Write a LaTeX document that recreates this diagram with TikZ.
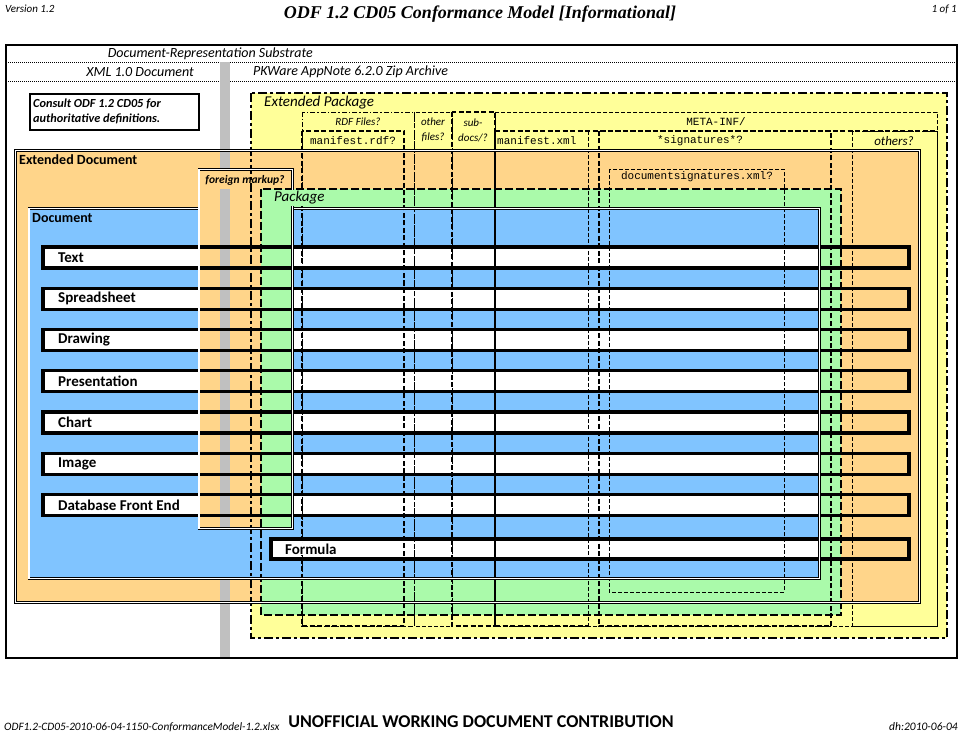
\documentclass[tikz,border=0pt]{standalone}
\usepackage{fontspec}
\setmainfont{Carlito}
\newfontfamily\monofont{Liberation Mono}
\newfontfamily\titleserif{Liberation Serif}
\newcommand\fsz[1]{\fontsize{#1}{#1}\selectfont}
\definecolor{extpkg}{RGB}{255,255,153}
\definecolor{extdoc}{RGB}{255,213,138}
\definecolor{pkggreen}{RGB}{170,250,170}
\definecolor{docblue}{RGB}{128,196,255}
\definecolor{graybar}{RGB}{192,192,192}
\tikzset{
  dbl/.style={draw=black, line width=0.7pt, double=white, double distance=1.3pt},
  rowline/.style={draw=black, line width=3.2pt},
  thickdash/.style={draw=black, line width=1.7pt, dash pattern=on 5pt off 2.5pt},
  thindash/.style={draw=black, line width=0.9pt, dash pattern=on 4pt off 2pt},
  thindashdot/.style={draw=black, line width=0.9pt, dash pattern=on 5pt off 2pt on 1.5pt off 2pt},
  dotline/.style={draw=black, line width=0.8pt, dash pattern=on 1pt off 1pt},
  pkgborder/.style={draw=black, line width=2.5pt, dash pattern=on 8pt off 3pt},
  extpkgborder/.style={draw=black, line width=2.8pt, dash pattern=on 9pt off 3pt on 3pt off 3pt},
  txt/.style={inner sep=0pt, text=black},
  rowlabel/.style={txt, anchor=west, font=\bfseries\fsz{15}},
  hdr/.style={txt, font=\itshape\fsz{14}},
  monolbl/.style={txt, font=\monofont\fsz{11}},
  smallit/.style={txt, font=\itshape\fontsize{11}{15}\selectfont, align=center},
}
\def\rowlist{0/Text/rtext,1/Spreadsheet/rsheet,2/Drawing/rdraw,3/Presentation/rpres,4/Chart/rchart,5/Image/rimage,6/Database Front End/rdb}
\begin{document}
\begin{tikzpicture}[x=1pt,y=-1pt]
\useasboundingbox (0,0) rectangle (964,735);
\fill[white] (0,0) rectangle (964,735);

% outer frame
\draw[line width=2pt] (6,45) rectangle (957,658);
\draw[dotline] (6,62) -- (957,62);
\draw[dotline] (6,81) -- (957,81);

% consult box
\draw[line width=2.4pt, fill=white] (30,94) rectangle (199,130);

% background regions
\fill[extpkg] (251,93) rectangle (947,638);
\fill[extdoc] (15.5,150.5) rectangle (919.5,602.5);
\fill[pkggreen] (261,189) rectangle (841,615);
\fill[docblue] (29,208.5) rectangle (819.5,578.5);
\fill[extdoc] (199,169.5) rectangle (292.5,528.5);
\fill[pkggreen] (261,189) rectangle (291,528.5);

% gray bar
\fill[graybar] (220,62) rectangle (230,169);
\fill[graybar] (220,189) rectangle (230,528);
\fill[graybar] (220,580) rectangle (230,657);

% white row fills
\foreach \i/\lab/\nm in \rowlist {
  \pgfmathsetmacro\yt{247+41.25*\i}
  \pgfmathsetmacro\yb{\yt+21}
  \fill[white] (43,\yt) rectangle (198,\yb);
  \fill[white] (291,\yt) rectangle (819,\yb);
}
\fill[white] (271,539) rectangle (819,559);

% column boxes of the extended package
\draw[thindashdot] (302,112) rectangle (414,626);
\draw[thindash] (414,112) rectangle (452,626);
\draw[thickdash] (452,112) rectangle (495,626);
\draw[thindash] (495,112) rectangle (937,626);
\draw[thickdash] (302,131) rectangle (404,626);
\draw[thickdash] (495,131) -- (495,626) -- (588,626);
\draw[thindash] (588,131) -- (588,626);
\draw[thickdash] (495,131) -- (937,131);
\draw[thickdash] (599,131) rectangle (831,626);
\draw[thindash] (852,131) rectangle (937,626);
\draw[thindash] (609,169) rectangle (784,592);

% row outlines
\foreach \i/\lab/\nm in \rowlist {
  \pgfmathsetmacro\yt{247+41.25*\i}
  \pgfmathsetmacro\yb{\yt+21}
  \draw[rowline] (43,\yt) rectangle (909,\yb);
}
\draw[rowline] (271,539) rectangle (909,559);

% package borders
\draw[extpkgborder] (251,93) rectangle (947,638);
\draw[pkgborder] (261,189) rectangle (841,615);

% double borders
\draw[dbl] (15.5,150.5) rectangle (919.5,602.5);
\draw[dbl] (199,208.5) -- (29,208.5) -- (29,578.5) -- (819.5,578.5) -- (819.5,208.5) -- (291.5,208.5);
\draw[dbl] (199,169.5) rectangle (292.5,528.5);

% header / footer texts
\node[txt, anchor=west, font=\itshape\fsz{11}] (ver) at (5,9) {Version 1.2};
\node[txt, font=\titleserif\bfseries\itshape\fsz{18}] (title) at (480,14) {ODF 1.2 CD05 Conformance Model [Informational]};
\node[txt, anchor=east, font=\itshape\fsz{11}] (pg) at (957,9) {1 of 1};
\node[hdr, anchor=east] (drs) at (313,54) {Document-Representation Substrate};
\node[hdr, anchor=east] (xml) at (194,72) {XML 1.0 Document};
\node[hdr, anchor=west] (zip) at (253,72) {PKWare AppNote 6.2.0 Zip Archive};
\node[txt, anchor=west, font=\itshape\fsz{11.3}] (fname) at (4,727) {ODF1.2-CD05-2010-06-04-1150-ConformanceModel-1.2.xlsx};
\node[txt, font=\bfseries\fsz{18}] (unoff) at (481,722) {UNOFFICIAL WORKING DOCUMENT CONTRIBUTION};
\node[txt, anchor=east, font=\itshape\fsz{11.5}] (dh) at (958,727) {dh:2010-06-04};

% consult text
\node[txt, anchor=west, align=left, font=\bfseries\itshape\fontsize{12.3}{15}\selectfont] (consult) at (33,111) {Consult ODF 1.2 CD05 for\\authoritative definitions.};

% box labels
\node[txt, anchor=west, font=\itshape\fsz{15}] (extpkglbl) at (264,103) {Extended Package};
\node[smallit] (rdf) at (358,122) {RDF Files?};
\node[monolbl] (mrdf) at (353,141) {manifest.rdf?};
\node[smallit] (other) at (433,130) {other\\files?};
\node[smallit] (subdocs) at (473,130) {sub-\\docs/?};
\node[monolbl] (metainf) at (716,122) {META-INF/};
\node[monolbl, anchor=west] (mxml) at (497,141) {manifest.xml};
\node[monolbl] (sigs) at (700,141) {*signatures*?};
\node[txt, font=\itshape\fsz{13}] (others) at (894,141) {others?};
\node[monolbl] (docsig) at (697,177) {documentsignatures.xml?};
\node[txt, anchor=west, font=\bfseries\fsz{14}] (extdoclbl) at (19,160) {Extended Document};
\node[txt, font=\bfseries\itshape\fsz{11.5}] (foreign) at (245,180) {foreign markup?};
\node[txt, anchor=west, font=\itshape\fsz{15}, fill=pkggreen, inner xsep=1pt, inner ysep=2pt] (pkglbl) at (273,198) {Package};
\node[txt, anchor=west, font=\bfseries\fsz{14}] (doclbl) at (32,218) {Document};

% row labels
\foreach \i/\lab/\nm in \rowlist {
  \pgfmathsetmacro\yc{257.5+41.25*\i}
  \node[rowlabel] (\nm) at (58,\yc) {\lab};
}
\node[rowlabel, fill=white, inner sep=1pt] (rformula) at (284,549) {Formula};
\end{tikzpicture}
\end{document}
